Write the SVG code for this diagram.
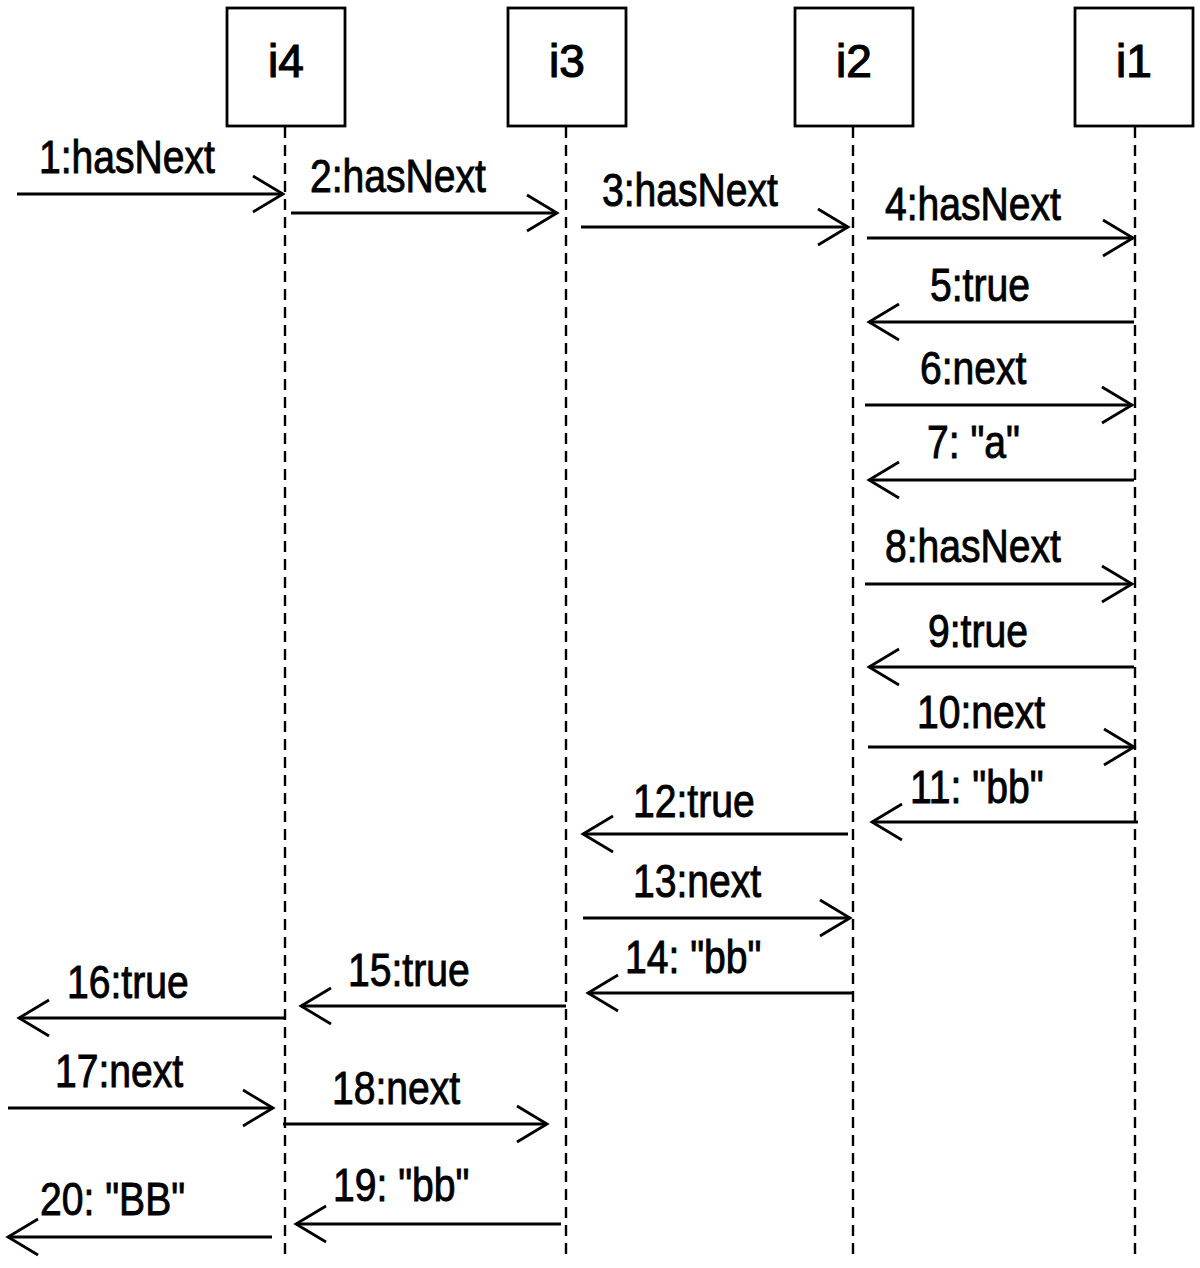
<svg xmlns="http://www.w3.org/2000/svg" width="1200" height="1268" viewBox="0 0 1200 1268">
<style>
.box{fill:#fff;stroke:#000;stroke-width:2.8}
.life{stroke:#000;stroke-width:2.4;stroke-dasharray:11 7;fill:none}
.msg{stroke:#000;stroke-width:2.8;fill:none;marker-end:url(#arr)}
.nl{font-family:"Liberation Sans",Arial,sans-serif;font-size:46px;fill:#000;stroke:#000;stroke-width:1.2;text-anchor:middle}
.ml{font-family:"Liberation Sans",Arial,sans-serif;font-size:46px;fill:#000;stroke:#000;stroke-width:0.9}
</style>
<defs>
<marker id="arr" markerUnits="userSpaceOnUse" markerWidth="40" markerHeight="44" viewBox="-34 -22 38 44" refX="0" refY="0" orient="auto">
<path d="M-30,-18 L0,0 L-30,18" fill="none" stroke="#000" stroke-width="2.8"/>
</marker>
</defs>
<rect width="1200" height="1268" fill="#fff"/>
<g id="i4"><rect class="box" x="227" y="8" width="118" height="118"/><text class="nl" x="286" y="77">i4</text><line class="life" x1="285" y1="127" x2="285" y2="1260"/></g>
<g id="i3"><rect class="box" x="508" y="8" width="118" height="118"/><text class="nl" x="567" y="77">i3</text><line class="life" x1="566" y1="127" x2="566" y2="1260"/></g>
<g id="i2"><rect class="box" x="795" y="8" width="118" height="118"/><text class="nl" x="854" y="77">i2</text><line class="life" x1="853" y1="127" x2="853" y2="1260"/></g>
<g id="i1"><rect class="box" x="1075" y="8" width="118" height="118"/><text class="nl" x="1134" y="77">i1</text><line class="life" x1="1135" y1="127" x2="1135" y2="1260"/></g>
<g id="connectors">
<line class="msg" x1="17" y1="194" x2="283" y2="194"/>
<line class="msg" x1="291" y1="213" x2="557" y2="213"/>
<line class="msg" x1="581" y1="227" x2="848" y2="227"/>
<line class="msg" x1="867" y1="238" x2="1133" y2="238"/>
<line class="msg" x1="1134" y1="322" x2="869" y2="322"/>
<line class="msg" x1="865" y1="405" x2="1132" y2="405"/>
<line class="msg" x1="1134" y1="480" x2="869" y2="480"/>
<line class="msg" x1="865" y1="584" x2="1132" y2="584"/>
<line class="msg" x1="1134" y1="667" x2="869" y2="667"/>
<line class="msg" x1="868" y1="747" x2="1134" y2="747"/>
<line class="msg" x1="1138" y1="822" x2="872" y2="822"/>
<line class="msg" x1="848" y1="834" x2="583" y2="834"/>
<line class="msg" x1="583" y1="918" x2="850" y2="918"/>
<line class="msg" x1="853" y1="993" x2="588" y2="993"/>
<line class="msg" x1="566" y1="1006" x2="301" y2="1006"/>
<line class="msg" x1="284" y1="1018" x2="19" y2="1018"/>
<line class="msg" x1="8" y1="1108" x2="273" y2="1108"/>
<line class="msg" x1="283" y1="1124" x2="547" y2="1124"/>
<line class="msg" x1="561" y1="1224" x2="296" y2="1224"/>
<line class="msg" x1="272" y1="1237" x2="8" y2="1237"/>
</g>
<g id="labels">
<text class="ml" transform="translate(39,173) scale(0.85,1)">1:hasNext</text>
<text class="ml" transform="translate(310,192) scale(0.85,1)">2:hasNext</text>
<text class="ml" transform="translate(602,206) scale(0.85,1)">3:hasNext</text>
<text class="ml" transform="translate(885,220) scale(0.85,1)">4:hasNext</text>
<text class="ml" transform="translate(930,301) scale(0.85,1)">5:true</text>
<text class="ml" transform="translate(920,384) scale(0.85,1)">6:next</text>
<text class="ml" transform="translate(927,458) scale(0.85,1)">7: "a"</text>
<text class="ml" transform="translate(885,562) scale(0.85,1)">8:hasNext</text>
<text class="ml" transform="translate(928,647) scale(0.85,1)">9:true</text>
<text class="ml" transform="translate(917,728) scale(0.85,1)">10:next</text>
<text class="ml" transform="translate(910,803) scale(0.85,1)">11: "bb"</text>
<text class="ml" transform="translate(633,817) scale(0.85,1)">12:true</text>
<text class="ml" transform="translate(633,897) scale(0.85,1)">13:next</text>
<text class="ml" transform="translate(625,973) scale(0.85,1)">14: "bb"</text>
<text class="ml" transform="translate(348,986) scale(0.85,1)">15:true</text>
<text class="ml" transform="translate(67,998) scale(0.85,1)">16:true</text>
<text class="ml" transform="translate(55,1087) scale(0.85,1)">17:next</text>
<text class="ml" transform="translate(332,1104) scale(0.85,1)">18:next</text>
<text class="ml" transform="translate(333,1201) scale(0.85,1)">19: "bb"</text>
<text class="ml" transform="translate(40,1215) scale(0.85,1)">20: "BB"</text>
</g>
</svg>
